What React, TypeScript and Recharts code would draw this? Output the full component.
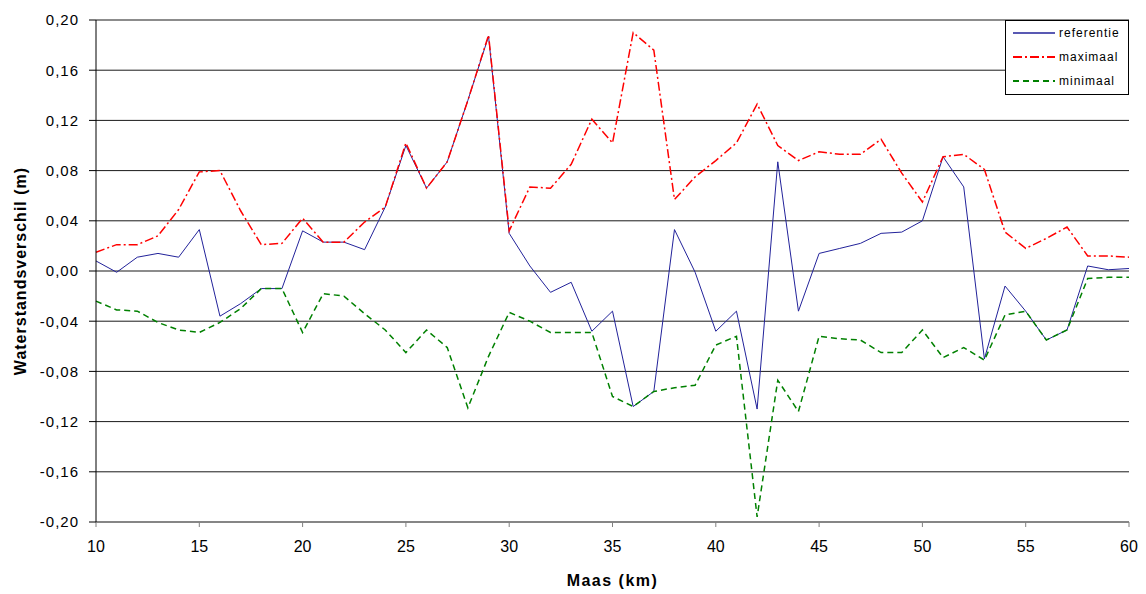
import React from 'react';
import { LineChart, Line, XAxis, YAxis, CartesianGrid, Legend, Label } from 'recharts';

// Maas river kilometre positions
const km = [
  10, 11, 12, 13, 14, 15, 16, 17, 18, 19, 20, 21, 22, 23, 24, 25, 26, 27, 28, 29, 30,
  31, 32, 33, 34, 35, 36, 37, 38, 39, 40, 41, 42, 43, 44, 45, 46, 47, 48, 49, 50,
  51, 52, 53, 54, 55, 56, 57, 58, 59, 60,
];

// water level differences (m)
const referentie = [
  0.008, -0.001, 0.011, 0.014, 0.011, 0.033, -0.036, -0.026, -0.014, -0.014, 0.032,
  0.023, 0.023, 0.017, 0.051, 0.1, 0.066, 0.087, 0.136, 0.187, 0.03,
  0.004, -0.017, -0.009, -0.048, -0.032, -0.108, -0.096, 0.033, -0.001, -0.048,
  -0.032, -0.11, 0.087, -0.032, 0.014, 0.018, 0.022, 0.03, 0.031, 0.04,
  0.091, 0.067, -0.07, -0.012, -0.032, -0.055, -0.047, 0.004, 0.001, 0.002,
];

const maximaal = [
  0.015, 0.021, 0.021, 0.028, 0.049, 0.079, 0.08, 0.048, 0.021, 0.022, 0.042,
  0.023, 0.023, 0.039, 0.051, 0.102, 0.066, 0.087, 0.136, 0.188, 0.032,
  0.067, 0.066, 0.085, 0.121, 0.102, 0.19, 0.176, 0.057, 0.075, 0.088,
  0.102, 0.133, 0.1, 0.088, 0.095, 0.093, 0.093, 0.105, 0.078, 0.055,
  0.091, 0.093, 0.081, 0.031, 0.018, 0.026, 0.035, 0.012, 0.012, 0.011,
];

const minimaal = [
  -0.024, -0.031, -0.032, -0.041, -0.047, -0.049, -0.041, -0.03, -0.014, -0.014, -0.049,
  -0.018, -0.02, -0.034, -0.047, -0.065, -0.047, -0.061, -0.109, -0.068, -0.033,
  -0.04, -0.049, -0.049, -0.049, -0.1, -0.108, -0.096, -0.093, -0.091, -0.059,
  -0.052, -0.196, -0.087, -0.112, -0.052, -0.054, -0.055, -0.065, -0.065, -0.047,
  -0.069, -0.061, -0.071, -0.035, -0.032, -0.055, -0.047, -0.006, -0.005, -0.005,
];

const xTicks = [10, 15, 20, 25, 30, 35, 40, 45, 50, 55, 60];
const yTicks = [-0.2, -0.16, -0.12, -0.08, -0.04, 0, 0.04, 0.08, 0.12, 0.16, 0.2];

const FONT = '"Liberation Sans", Arial, Helvetica, sans-serif';

const series = [
  { key: 'referentie', color: '#22229a', width: 1, dash: undefined as string | undefined },
  { key: 'maximaal', color: '#ff0000', width: 1.5, dash: '9 3 2 3' },
  { key: 'minimaal', color: '#008000', width: 1.5, dash: '6 4' },
];

const data = km.map((k, i) => ({
  km: k,
  referentie: referentie[i],
  maximaal: maximaal[i],
  minimaal: minimaal[i],
}));

const fmt = (v: number) => v.toFixed(2).replace('.', ',');

const LegendBox = () => (
  <div
    style={{
      width: 124,
      height: 75,
      boxSizing: 'border-box',
      border: '1px solid #000',
      background: '#fff',
      fontFamily: FONT,
    }}
  >
    {series.map((s) => (
      <div key={s.key} style={{ display: 'flex', alignItems: 'center', height: 24 }}>
        <svg width={42} height={6} style={{ marginLeft: 7 }}>
          <line
            x1={0}
            y1={3}
            x2={42}
            y2={3}
            stroke={s.color}
            strokeWidth={s.width + 0.5}
            strokeDasharray={s.dash}
          />
        </svg>
        <span style={{ marginLeft: 4, fontSize: 12, letterSpacing: 1, color: '#000' }}>{s.key}</span>
      </div>
    ))}
  </div>
);

export default function App() {
  return (
    <div
      style={{
        position: 'absolute',
        left: 0,
        top: 0,
        width: 1146,
        height: 594,
        background: '#fff',
        fontFamily: FONT,
      }}
    >
      <LineChart
        width={1146}
        height={594}
        data={data}
        margin={{ top: 20, right: 17, bottom: 22, left: 0 }}
      >
        <CartesianGrid vertical={false} stroke="#000" strokeOpacity={0.9} />
        <XAxis
          dataKey="km"
          type="number"
          domain={[10, 60]}
          ticks={xTicks}
          interval={0}
          height={50}
          tickSize={5}
          tickMargin={14}
          stroke="#808080"
          tick={{ fill: '#000', fontSize: 16, fontFamily: FONT }}
        >
          <Label
            content={({ viewBox }: any) => (
              <text
                x={viewBox.x + viewBox.width / 2}
                y={viewBox.y + 58}
                textAnchor="middle"
                dominantBaseline="central"
                fontFamily={FONT}
                fontSize={16}
                fontWeight="bold"
                letterSpacing={1.5}
                fill="#000"
              >
                Maas (km)
              </text>
            )}
          />
        </XAxis>
        <XAxis
          xAxisId="top"
          orientation="top"
          dataKey="km"
          type="number"
          domain={[10, 60]}
          height={0}
          tick={false}
          tickLine={false}
          stroke="#9a9a9a"
        />
        <YAxis
          type="number"
          domain={[-0.2, 0.2]}
          ticks={yTicks}
          interval={0}
          width={96}
          tickSize={7}
          tickMargin={10}
          tickFormatter={fmt}
          stroke="#000"
          tick={{ fill: '#000', fontSize: 15, letterSpacing: 1, fontFamily: FONT }}
        >
          <Label
            content={({ viewBox }: any) => {
              const cx = viewBox.x + 20;
              const cy = viewBox.y + viewBox.height / 2;
              return (
                <text
                  x={cx}
                  y={cy}
                  transform={`rotate(-90 ${cx} ${cy})`}
                  textAnchor="middle"
                  dominantBaseline="central"
                  fontFamily={FONT}
                  fontSize={16}
                  fontWeight="bold"
                  letterSpacing={1}
                  fill="#000"
                >
                  Waterstandsverschil (m)
                </text>
              );
            }}
          />
        </YAxis>
        <YAxis
          yAxisId="right"
          orientation="right"
          type="number"
          domain={[-0.2, 0.2]}
          width={0}
          tick={false}
          tickLine={false}
          stroke="#9a9a9a"
        />
        {series.map((s) => (
          <Line
            key={s.key}
            type="linear"
            dataKey={s.key}
            stroke={s.color}
            strokeWidth={s.width}
            strokeDasharray={s.dash}
            dot={false}
            activeDot={false}
            isAnimationActive={false}
          />
        ))}
        <Legend
          layout="horizontal"
          verticalAlign="middle"
          align="center"
          wrapperStyle={{ left: 1005, top: 20, width: 124, height: 75 }}
          content={() => <LegendBox />}
        />
      </LineChart>
    </div>
  );
}
